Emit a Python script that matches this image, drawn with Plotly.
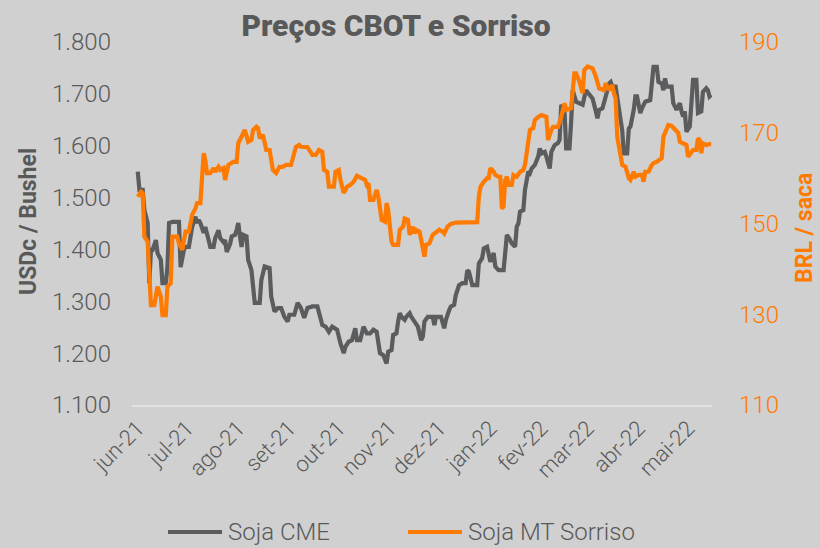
import plotly.graph_objects as go

# ---------------- data ----------------
cme_dates = [
 "2021-06-01","2021-06-02","2021-06-04","2021-06-05","2021-06-07","2021-06-08","2021-06-09","2021-06-10","2021-06-12","2021-06-13",
 "2021-06-15","2021-06-16","2021-06-18","2021-06-19","2021-06-20","2021-06-22","2021-06-26","2021-06-27","2021-06-29","2021-06-30",
 "2021-07-02","2021-07-03","2021-07-04","2021-07-06","2021-07-07","2021-07-08","2021-07-09","2021-07-11","2021-07-12","2021-07-14",
 "2021-07-15","2021-07-17","2021-07-18","2021-07-20","2021-07-21","2021-07-23","2021-07-24","2021-07-25","2021-07-27","2021-07-28",
 "2021-07-30","2021-07-31","2021-08-01","2021-08-02","2021-08-03","2021-08-04","2021-08-06","2021-08-07","2021-08-09","2021-08-11",
 "2021-08-14","2021-08-15","2021-08-17","2021-08-20","2021-08-21","2021-08-23","2021-08-25","2021-08-27","2021-08-29","2021-08-31",
 "2021-09-01","2021-09-04","2021-09-06","2021-09-08","2021-09-10","2021-09-12","2021-09-15","2021-09-18","2021-09-20","2021-09-21",
 "2021-09-23","2021-09-25","2021-09-27","2021-09-30","2021-10-02","2021-10-04","2021-10-05","2021-10-07","2021-10-09","2021-10-11",
 "2021-10-12","2021-10-14","2021-10-16","2021-10-18","2021-10-20","2021-10-22","2021-10-24","2021-10-26","2021-10-28","2021-10-30",
 "2021-10-31","2021-11-02","2021-11-03","2021-11-05","2021-11-06","2021-11-07","2021-11-08","2021-11-10","2021-11-11","2021-11-13",
 "2021-11-14","2021-11-16","2021-11-17","2021-11-18","2021-11-20","2021-11-21","2021-11-22","2021-11-24","2021-11-27","2021-11-28",
 "2021-11-29","2021-12-02","2021-12-04","2021-12-05","2021-12-07","2021-12-08","2021-12-10","2021-12-11","2021-12-13","2021-12-15",
 "2021-12-17","2021-12-18","2021-12-19","2021-12-21","2021-12-24","2021-12-25","2021-12-27","2021-12-28","2021-12-30","2021-12-31",
 "2022-01-01","2022-01-03","2022-01-04","2022-01-06","2022-01-09","2022-01-10","2022-01-11","2022-01-13","2022-01-14","2022-01-16",
 "2022-01-17","2022-01-18","2022-01-19","2022-01-21","2022-01-22","2022-01-24","2022-01-25","2022-01-26","2022-01-28","2022-01-30",
 "2022-01-31","2022-02-01","2022-02-03","2022-02-04","2022-02-06","2022-02-07","2022-02-09","2022-02-11","2022-02-12","2022-02-13",
 "2022-02-15","2022-02-16","2022-02-18","2022-02-19","2022-02-20","2022-02-22","2022-02-24","2022-02-26","2022-02-28","2022-03-02",
 "2022-03-04","2022-03-05","2022-03-07","2022-03-08","2022-03-10","2022-03-12","2022-03-14","2022-03-15","2022-03-16","2022-03-18",
 "2022-03-20","2022-03-22","2022-03-23","2022-03-25","2022-03-26","2022-03-27","2022-03-29","2022-03-30","2022-03-31","2022-04-02",
 "2022-04-03","2022-04-05","2022-04-08","2022-04-09","2022-04-10","2022-04-12","2022-04-13","2022-04-15","2022-04-16","2022-04-17",
 "2022-04-18","2022-04-21","2022-04-22","2022-04-24","2022-04-26","2022-04-27","2022-04-28","2022-04-29","2022-04-30","2022-05-02",
 "2022-05-03","2022-05-04","2022-05-06","2022-05-07","2022-05-09","2022-05-10","2022-05-12","2022-05-13","2022-05-14","2022-05-15",
]
cme_values = [
 1550,1515,1515,1476,1451,1335,1399,1399,1418,1393,
 1380,1335,1335,1366,1451,1453,1453,1366,1399,1405,
 1405,1424,1443,1463,1451,1457,1451,1432,1443,1418,
 1405,1405,1422,1437,1422,1414,1418,1395,1410,1425,
 1428,1437,1451,1425,1405,1428,1425,1380,1360,1297,
 1297,1341,1367,1364,1309,1280,1287,1287,1270,1261,
 1274,1274,1297,1287,1268,1287,1290,1290,1270,1254,
 1251,1241,1251,1245,1219,1200,1212,1222,1225,1248,
 1225,1225,1251,1238,1238,1245,1241,1200,1196,1180,
 1203,1206,1235,1238,1261,1277,1270,1264,1270,1277,
 1270,1261,1258,1251,1225,1232,1261,1270,1270,1254,
 1270,1270,1248,1264,1283,1290,1293,1312,1331,1335,
 1335,1360,1357,1331,1331,1373,1383,1402,1405,1393,
 1376,1393,1367,1360,1360,1393,1428,1418,1412,1405,
 1444,1450,1473,1476,1515,1550,1547,1556,1563,1579,
 1595,1585,1588,1579,1556,1588,1601,1605,1611,1679,
 1666,1595,1595,1646,1707,1685,1682,1679,1707,1698,
 1691,1679,1653,1669,1672,1695,1720,1723,1714,1714,
 1669,1630,1585,1585,1633,1637,1669,1695,1695,1663,
 1672,1685,1688,1720,1752,1752,1723,1720,1707,1730,
 1714,1714,1682,1669,1682,1666,1656,1666,1627,1637,
 1675,1727,1727,1663,1666,1704,1711,1707,1695,1698,
]

sorriso_dates = [
 "2021-06-01","2021-06-03","2021-06-04","2021-06-05","2021-06-07","2021-06-08","2021-06-09","2021-06-11","2021-06-13","2021-06-15",
 "2021-06-16","2021-06-18","2021-06-19","2021-06-21","2021-06-22","2021-06-25","2021-06-26","2021-06-28","2021-06-30","2021-07-02",
 "2021-07-04","2021-07-06","2021-07-07","2021-07-09","2021-07-10","2021-07-11","2021-07-12","2021-07-13","2021-07-15","2021-07-17",
 "2021-07-18","2021-07-20","2021-07-21","2021-07-23","2021-07-24","2021-07-26","2021-07-29","2021-07-31","2021-08-01","2021-08-02",
 "2021-08-04","2021-08-05","2021-08-07","2021-08-09","2021-08-10","2021-08-12","2021-08-13","2021-08-14","2021-08-16","2021-08-17",
 "2021-08-18","2021-08-20","2021-08-22","2021-08-24","2021-08-26","2021-08-28","2021-08-30","2021-09-02","2021-09-04","2021-09-05",
 "2021-09-07","2021-09-08","2021-09-12","2021-09-14","2021-09-15","2021-09-17","2021-09-19","2021-09-21","2021-09-22","2021-09-24",
 "2021-09-25","2021-09-28","2021-09-29","2021-10-01","2021-10-02","2021-10-04","2021-10-06","2021-10-08","2021-10-10","2021-10-12",
 "2021-10-15","2021-10-17","2021-10-18","2021-10-19","2021-10-20","2021-10-22","2021-10-24","2021-10-25","2021-10-27","2021-10-29",
 "2021-10-30","2021-10-31","2021-11-02","2021-11-03","2021-11-06","2021-11-07","2021-11-09","2021-11-10","2021-11-12","2021-11-13",
 "2021-11-15","2021-11-16","2021-11-17","2021-11-19","2021-11-20","2021-11-22","2021-11-23","2021-11-25","2021-11-27","2021-11-29",
 "2021-12-01","2021-12-03","2021-12-04","2021-12-06","2021-12-08","2021-12-11","2021-12-15","2021-12-24","2021-12-25","2021-12-26",
 "2021-12-28","2021-12-30","2021-12-31","2022-01-01","2022-01-03","2022-01-04","2022-01-06","2022-01-07","2022-01-08","2022-01-09",
 "2022-01-10","2022-01-11","2022-01-12","2022-01-14","2022-01-15","2022-01-17","2022-01-19","2022-01-21","2022-01-22","2022-01-24",
 "2022-01-25","2022-01-27","2022-01-28","2022-01-30","2022-02-01","2022-02-04","2022-02-05","2022-02-07","2022-02-08","2022-02-11",
 "2022-02-13","2022-02-15","2022-02-16","2022-02-19","2022-02-21","2022-02-22","2022-02-24","2022-02-26","2022-02-27","2022-03-01",
 "2022-03-04","2022-03-06","2022-03-08","2022-03-11","2022-03-12","2022-03-14","2022-03-16","2022-03-17","2022-03-18","2022-03-19",
 "2022-03-21","2022-03-22","2022-03-24","2022-03-26","2022-03-27","2022-03-29","2022-03-30","2022-04-01","2022-04-03","2022-04-04",
 "2022-04-05","2022-04-07","2022-04-09","2022-04-10","2022-04-12","2022-04-14","2022-04-15","2022-04-16","2022-04-18","2022-04-19",
 "2022-04-21","2022-04-23","2022-04-25","2022-04-26","2022-04-28","2022-04-30","2022-05-01","2022-05-03","2022-05-04","2022-05-06",
 "2022-05-07","2022-05-08","2022-05-09","2022-05-10","2022-05-12","2022-05-14","2022-05-15",
]
sorriso_values = [
 155.9,157.0,156.7,147.1,146.0,140.5,132.0,132.0,136.1,133.9,
 129.8,129.8,136.1,136.8,147.1,147.1,145.6,144.2,148.2,148.2,
 151.9,153.3,154.5,154.5,160.3,165.5,164.0,161.1,161.1,162.2,
 161.4,162.5,161.8,162.2,159.6,162.9,163.6,163.6,167.7,168.4,
 170.2,170.6,168.0,168.4,170.6,171.3,171.0,168.8,169.5,167.7,
 166.2,166.2,161.8,161.1,162.5,162.5,162.9,162.9,166.2,166.9,
 167.3,166.9,166.8,165.8,165.1,165.1,166.2,165.8,161.8,161.4,
 158.1,158.1,161.4,161.8,159.6,156.7,158.1,158.5,159.2,160.5,
 160.0,159.6,158.5,158.9,155.2,155.2,157.4,155.9,150.8,150.4,
 154.5,153.0,146.0,145.3,145.3,148.6,149.3,151.1,150.8,147.5,
 149.3,147.8,148.6,148.2,146.4,142.7,145.3,145.6,147.5,148.2,
 148.6,148.2,147.8,149.3,149.9,150.2,150.2,150.3,155.9,158.1,
 159.2,160.0,160.0,162.2,161.4,160.7,160.3,160.3,153.3,153.7,
 159.6,160.3,158.5,158.5,160.7,160.3,161.4,161.8,162.9,168.4,
 170.6,171.0,172.8,173.5,173.9,173.5,168.4,170.6,171.3,171.3,
 173.5,176.5,175.0,175.4,183.1,183.1,181.3,178.7,183.8,184.6,
 184.2,182.4,179.8,179.4,180.9,179.4,180.5,178.7,177.6,169.1,
 164.7,162.9,162.5,160.0,159.6,161.4,160.3,160.7,160.7,159.2,
 161.4,161.4,162.9,163.3,163.6,164.0,164.4,169.1,170.6,171.7,
 171.5,170.6,170.0,168.0,167.7,167.3,164.7,165.5,166.2,166.2,
 168.8,168.4,165.5,167.7,167.3,167.5,167.5,
]

series_names = ["Soja CME", "Soja MT Sorriso"]

tick_dates = ["2021-06-01","2021-07-01","2021-08-01","2021-09-01","2021-10-01","2021-11-01",
              "2021-12-01","2022-01-01","2022-02-01","2022-03-01","2022-04-01","2022-05-01"]
tick_labels = ["jun-21","jul-21","ago-21","set-21","out-21","nov-21",
               "dez-21","jan-22","fev-22","mar-22","abr-22","mai-22"]

left_ticks = [1100, 1200, 1300, 1400, 1500, 1600, 1700, 1800]
right_ticks = [110, 130, 150, 170, 190]

# ---------------- style ----------------
BG = "#D0D0D0"
GRAY = "#5B5C5E"
TXT = "#595959"
ORANGE = "#FF7A00"
FONT = "Roboto"

W, H = 820, 548
L, R, T, B = 132, 108, 42, 143
PW, PH = W - L - R, H - T - B

def px_x(p):  # pixel -> paper x
    return (p - L) / PW

def px_y(p):  # pixel -> paper y
    return (H - B - p) / PH

fig = go.Figure()
fig.add_trace(go.Scatter(x=cme_dates, y=cme_values, name=series_names[0], mode="lines",
                         line=dict(color=GRAY, width=4.2), yaxis="y", showlegend=False))
fig.add_trace(go.Scatter(x=sorriso_dates, y=sorriso_values, name=series_names[1], mode="lines",
                         line=dict(color=ORANGE, width=4.2), yaxis="y2", showlegend=False))

# custom legend (long line samples like the original)
leg_y = px_y(532)
shapes = [
    dict(type="line", xref="paper", yref="paper", x0=px_x(168), x1=px_x(222), y0=leg_y, y1=leg_y,
         line=dict(color=GRAY, width=4.2)),
    dict(type="line", xref="paper", yref="paper", x0=px_x(408), x1=px_x(462), y0=leg_y, y1=leg_y,
         line=dict(color=ORANGE, width=4.2)),
]
annotations = [
    dict(text=series_names[0], xref="paper", yref="paper", x=px_x(226), y=leg_y,
         xanchor="left", yanchor="middle", showarrow=False,
         font=dict(family=FONT, size=24, color=TXT, weight=300)),
    dict(text=series_names[1], xref="paper", yref="paper", x=px_x(466), y=leg_y,
         xanchor="left", yanchor="middle", showarrow=False,
         font=dict(family=FONT, size=24, color=TXT, weight=300)),
    dict(text="<b>USDc / Bushel</b>", textangle=-90, xref="paper", yref="paper",
         x=px_x(28), y=px_y(222), xanchor="center", yanchor="middle",
         showarrow=False, font=dict(family=FONT, size=23, color=TXT)),
    dict(text="<b>BRL / saca</b>", textangle=-90, xref="paper", yref="paper",
         x=px_x(804), y=px_y(228), xanchor="center", yanchor="middle",
         showarrow=False, font=dict(family=FONT, size=23, color=ORANGE)),
]

fig.update_layout(
    width=W, height=H,
    paper_bgcolor=BG, plot_bgcolor=BG,
    separators=",.",
    margin=dict(l=L, r=R, t=T, b=B, autoexpand=False),
    font=dict(family=FONT, color=TXT, size=21),
    title=dict(text="Preços CBOT e Sorriso", x=396 / W, xanchor="center",
               y=1 - 25 / H, yanchor="middle", yref="container",
               font=dict(family=FONT, size=30, color=TXT, weight=900)),
    xaxis=dict(type="date", range=["2021-05-28 12:00", "2022-05-15 12:00"],
               tickvals=tick_dates, ticktext=tick_labels, tickangle=-45,
               showgrid=False, zeroline=False, showline=True, linecolor="#E2E2E2", linewidth=1.5,
               ticks="", tickfont=dict(family=FONT, size=22, color=TXT, weight=300)),
    yaxis=dict(range=[1100, 1800], tickvals=left_ticks, tickformat=",d",
               showgrid=False, zeroline=False, showline=False, ticks="",
               ticklabelstandoff=20,
               tickfont=dict(family=FONT, size=24, color=TXT, weight=300)),
    yaxis2=dict(range=[110, 190], tickvals=right_ticks, overlaying="y", side="right",
                showgrid=False, zeroline=False, showline=False, ticks="",
                ticklabelstandoff=26,
                tickfont=dict(family=FONT, size=24, color=ORANGE, weight=300)),
    showlegend=False,
    shapes=shapes,
    annotations=annotations,
)

fig.write_html(
    "out.html",
    config={"displayModeBar": False},
    post_script="document.body.style.margin='0px';document.body.style.overflow='hidden';",
)
